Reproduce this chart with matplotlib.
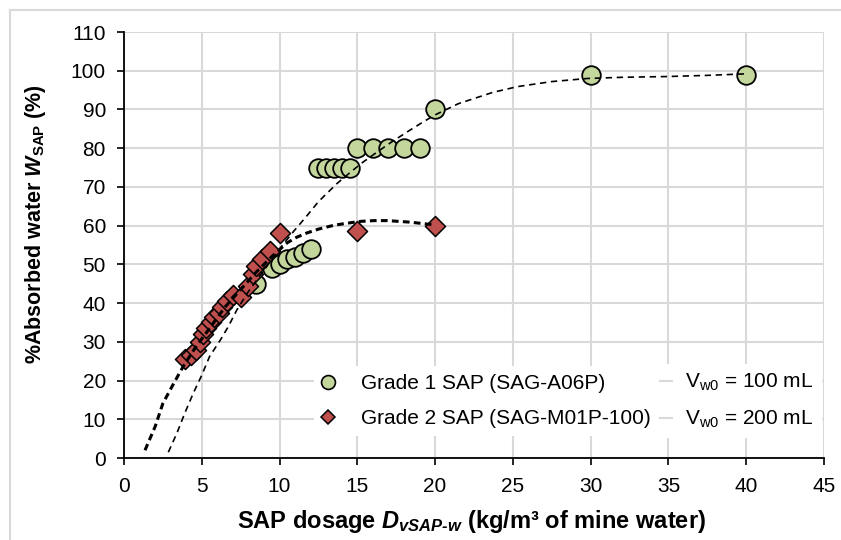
import matplotlib
matplotlib.use("Agg")
import matplotlib.pyplot as plt
from matplotlib.lines import Line2D

plt.rcParams['font.family'] = ['Liberation Sans', 'DejaVu Sans']
plt.rcParams['mathtext.fontset'] = 'custom'
plt.rcParams['mathtext.rm'] = 'Liberation Sans'
plt.rcParams['mathtext.it'] = 'Liberation Sans:italic'
plt.rcParams['mathtext.bf'] = 'Liberation Sans:bold'
plt.rcParams['mathtext.bfit'] = 'Liberation Sans:italic:bold'

# ---- data ----
grade1_x = [8.5, 9.5, 10, 10.5, 11, 11.5, 12, 12.5, 13, 13.5, 14, 14.5, 15, 16, 17, 18, 19, 20, 30, 40]
grade1_y = [45, 49, 50, 51.5, 52, 53, 54, 75, 75, 75, 75, 75, 80, 80, 80, 80, 80, 90, 99, 99]

grade2_x = [3.9, 4.3, 4.6, 4.9, 5.1, 5.3, 5.6, 5.8, 6.1, 6.3, 6.6, 7.0, 7.5, 8.0, 8.3, 8.5, 8.9, 9.4, 10, 15, 20]
grade2_y = [25.5, 26.5, 28, 30, 32, 33.5, 35, 36.5, 37.5, 39, 40.5, 42, 41.5, 44.5, 47.5, 49.5, 51.5, 53.5, 58, 58.5, 60]

trend1_x = [2.85, 3.4, 3.9, 4.45, 5.0, 5.5, 6.2, 6.7, 7.25, 8, 9, 10, 10.9, 11.75, 12.5, 13.7,
            14.5, 15.3, 16.2, 17.2, 18.4, 19.2, 20, 21.5, 23.7, 25.3, 27.5, 29.8, 32, 34.9, 37.5, 40]
trend1_y = [1.5, 6.4, 11.5, 16.7, 21.4, 26.2, 30.5, 33.9, 38.2, 43, 48.5, 54, 58.5, 62.5, 66.2, 70.9,
            73.6, 76.2, 78.8, 81.6, 84.7, 86.7, 88.6, 91.5, 94.4, 95.9, 97.2, 98, 98.3, 98.5, 98.8, 99.2]

trend2_x = [1.35, 2.0, 2.5, 3.2, 3.8, 4.5, 5.5, 6.5, 7.5, 8.5, 9.5, 10.5, 11.1, 11.75, 12.5, 13.5,
            14.3, 15.2, 16.1, 16.9, 18.4, 19.5, 20]
trend2_y = [2, 8.1, 14.1, 19.3, 23.6, 28, 33.5, 39, 43.5, 48, 52, 55.6, 57.0, 58.1, 59.1, 60.1,
            60.6, 61.1, 61.3, 61.3, 60.9, 60.4, 60.2]

xticks = list(range(0, 50, 5))
yticks = list(range(0, 120, 10))

labels_series = ['Grade 1 SAP (SAG-A06P)', 'Grade 2 SAP (SAG-M01P-100)']
labels_trend = [r'V$_{\mathregular{w0}}$ = 100 mL', r'V$_{\mathregular{w0}}$ = 200 mL']

green = '#c3d69b'
red = '#c0504d'
grid = '#d9d9d9'

W, H = 841, 540
fig = plt.figure(figsize=(W / 100, H / 100), dpi=100)
ax = fig.add_axes([124 / W, 1 - 458 / H, 700 / W, 426 / H])

ax.scatter(grade1_x, grade1_y, s=13.4 ** 2, marker='o', facecolor=green,
           edgecolor='black', linewidth=1.3, zorder=3)
ax.scatter(grade2_x, grade2_y, s=10.2 ** 2, marker='D', facecolor=red,
           edgecolor='black', linewidth=1.1, zorder=4)

ax.plot(trend1_x, trend1_y, color='black', lw=1.2, linestyle=(0, (3.8, 2.8)), zorder=5)
ax.plot(trend2_x, trend2_y, color='black', lw=2.2, linestyle=(0, (2.2, 1.4)), zorder=5)

ax.set_xlim(0, 45)
ax.set_ylim(0, 110)
ax.set_xticks(xticks)
ax.set_yticks(yticks)
ax.grid(True, color=grid, lw=1.5, zorder=0)
ax.set_axisbelow(True)
for s in ['top', 'right']:
    ax.spines[s].set_visible(False)
for s in ['left', 'bottom']:
    ax.spines[s].set_color('black')
    ax.spines[s].set_linewidth(1.3)
ax.tick_params(axis='both', direction='out', length=5, width=1.2, labelsize=15, colors='black')
ax.tick_params(axis='x', pad=9)
ax.tick_params(axis='y', pad=8)

ax.set_xlabel(r'SAP dosage $\mathbfit{D}_{\mathbfit{vSAP‐w}}$ (kg/m³ of mine water)',
              fontsize=17, fontweight='bold')
ax.xaxis.set_label_coords(0.497, -0.15)
ax.xaxis.label.set_va('center')
ax.set_ylabel(r'%Absorbed water $\mathbfit{W}_{\mathbf{SAP}}$ (%)', fontsize=15.5, fontweight='bold')
ax.yaxis.set_label_coords(-0.127, 0.55)
ax.yaxis.label.set_va('center')

handles_series = [
    Line2D([], [], marker='o', ls='none', mfc=green, mec='black', ms=10, mew=1.2),
    Line2D([], [], marker='D', ls='none', mfc=red, mec='black', ms=7, mew=1.1),
]
handles_trend = [
    Line2D([], [], color=grid, lw=1.5),
    Line2D([], [], color=grid, lw=1.5),
]
common = dict(loc='center left', bbox_transform=fig.transFigure, fontsize=15, frameon=True,
              facecolor='white', edgecolor='none', framealpha=1, handlelength=0.55,
              labelspacing=0.75, borderaxespad=0, borderpad=0.4, fancybox=False)
leg1 = ax.legend(handles_series, labels_series, bbox_to_anchor=(314 / W, 1 - 401 / H),
                 handletextpad=1.3, **common)
leg1.set_zorder(6)
ax.add_artist(leg1)
leg2 = ax.legend(handles_trend, labels_trend, bbox_to_anchor=(652 / W, 1 - 401 / H),
                 handletextpad=0.65, **common)
leg2.set_zorder(6)

# outer chart-area border (top and left visible)
fig.add_artist(Line2D([10 / W, 10 / W], [0, 1 - 10 / H], color=grid, lw=1.5,
                      transform=fig.transFigure))
fig.add_artist(Line2D([10 / W, 1], [1 - 10 / H, 1 - 10 / H], color=grid, lw=1.5,
                      transform=fig.transFigure))

fig.savefig('out.png', dpi=100)
